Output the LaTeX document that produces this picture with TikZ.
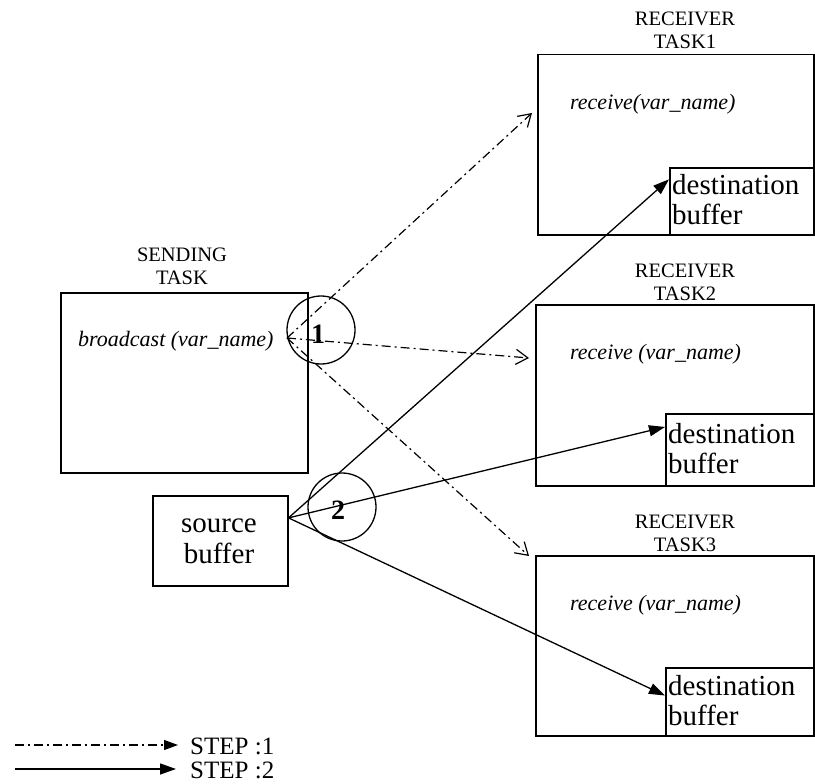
\documentclass[tikz,border=0pt]{standalone}
\usepackage{fontspec}
\setmainfont{Liberation Serif}
\usetikzlibrary{arrows.meta,calc}
\begin{document}
\begin{tikzpicture}[x=1pt,y=-1pt,
  box/.style={draw, line width=1.5pt, inner sep=0pt, anchor=north west},
  caption/.style={align=center, font=\fontsize{20.5}{23}\selectfont, inner sep=0pt},
  call/.style={font=\fontsize{22}{24}\selectfont\itshape, inner sep=0pt, anchor=west},
  big/.style={align=left, font=\fontsize{29}{30}\selectfont, inner sep=0pt},
  stepone/.style={line width=1.2pt, dash pattern=on 9pt off 4pt on 2pt off 4pt,
    -{Straight Barb[length=12pt,width=15pt,line width=1.2pt]}},
  steptwo/.style={line width=1.3pt, -{Triangle[length=16pt,width=11pt]}},
  mark circle/.style={draw, circle, line width=1.3pt, minimum size=68pt, inner sep=0pt},
  marknum/.style={font=\fontsize{28}{28}\selectfont\bfseries, inner sep=0pt},
  legendtxt/.style={font=\fontsize{25}{25}\selectfont, anchor=base west, inner sep=0pt}
]
\useasboundingbox (0,0) rectangle (815,784);

% sending side
\node[box, minimum width=247pt, minimum height=180pt] (send) at (60,292) {};
\node[caption] (sendlbl) at (182,266) {SENDING\\TASK};
\node[call] (bcast) at (78,341) {broadcast (var\_name)};
\node[box, minimum width=135pt, minimum height=90pt] (sbuf) at (152,495) {};
\node[big, align=center, font=\fontsize{29}{31}\selectfont] (sbuftxt) at (219,541) {source\\buffer};

% receiver 1
\node[box, minimum width=276pt, minimum height=180pt] (r1) at (537,54) {};
\node[caption] (r1lbl) at (685,30) {RECEIVER\\TASK1};
\node[call] (recv1) at (570,104) {receive(var\_name)};
\node[box, minimum width=144pt, minimum height=67pt] (d1) at (669,167) {};
\node[big, anchor=west] (d1txt) at (672,200) {destination\\buffer};

% receiver 2
\node[box, minimum width=278pt, minimum height=181pt] (r2) at (535,304) {};
\node[caption] (r2lbl) at (685,282) {RECEIVER\\TASK2};
\node[call] (recv2) at (570,354) {receive (var\_name)};
\node[box, minimum width=148pt, minimum height=72pt] (d2) at (665,413) {};
\node[big, anchor=west] (d2txt) at (668,449) {destination\\buffer};

% receiver 3
\node[box, minimum width=278pt, minimum height=180pt] (r3) at (535,555) {};
\node[caption] (r3lbl) at (685,533) {RECEIVER\\TASK3};
\node[call] (recv3) at (570,605) {receive (var\_name)};
\node[box, minimum width=148pt, minimum height=68pt] (d3) at (665,667) {};
\node[big, anchor=west] (d3txt) at (668,701) {destination\\buffer};

% step 1: broadcast call reaches the receivers
\coordinate (s1) at (287,338);
\draw[stepone] (s1) -- ($(r1.north west)+(-5,59)$);
\draw[stepone] (s1) -- ($(r2.north west)+(-6,54)$);
\draw[stepone] (s1) -- ($(r3.north west)+(-6,1)$);

% step 2: data copied from source buffer into destination buffers
\coordinate (s2) at ($(sbuf.north east)!0.25!(sbuf.south east)$);
\draw[steptwo] (s2) -- ($(d1.north west)!0.18!(d1.south west)$);
\draw[steptwo] (s2) -- ($(d2.north west)!0.19!(d2.south west)$);
\draw[steptwo] (s2) -- ($(d3.north west)!0.41!(d3.south west)$);

% step markers
\node[mark circle] (m1) at (321,330) {};
\node[marknum] (m1txt) at (318,334) {1};
\node[mark circle] (m2) at (342,507) {};
\node[marknum] (m2txt) at (338,510) {2};

% legend
\coordinate (l1a) at (15,745);
\coordinate (l1b) at (178,745);
\draw[stepone, -{Triangle[length=14pt,width=10pt]}] (l1a) -- (l1b);
\node[legendtxt] (leg1) at (190,754) {STEP :1};
\coordinate (l2a) at (15,769);
\coordinate (l2b) at (176,769);
\draw[steptwo] (l2a) -- (l2b);
\node[legendtxt] (leg2) at (190,778) {STEP :2};
\end{tikzpicture}
\end{document}
